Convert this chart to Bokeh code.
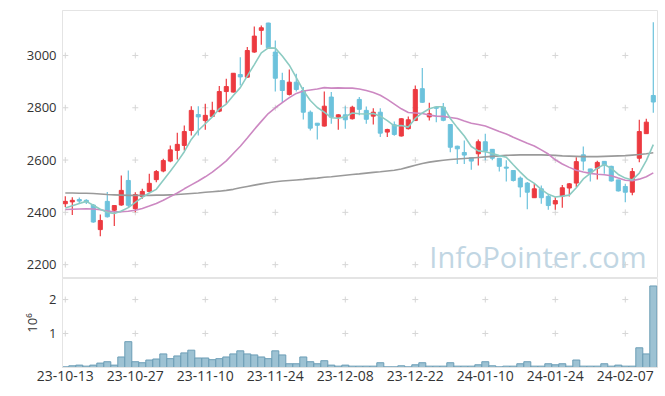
from bokeh.plotting import figure
from bokeh.layouts import column
from bokeh.models import ColumnDataSource, Range1d, FixedTicker, Label
from bokeh.embed import file_html
from bokeh.resources import INLINE

dates = ["23-10-13","23-10-16","23-10-17","23-10-18","23-10-19","23-10-20",
 "23-10-23","23-10-24","23-10-25","23-10-26","23-10-27","23-10-30","23-10-31",
 "23-11-01","23-11-02","23-11-03","23-11-06","23-11-07","23-11-08","23-11-09","23-11-10",
 "23-11-13","23-11-14","23-11-15","23-11-16","23-11-17","23-11-20","23-11-21","23-11-22","23-11-23","23-11-24",
 "23-11-27","23-11-28","23-11-29","23-11-30","23-12-01","23-12-04","23-12-05","23-12-06","23-12-07","23-12-08",
 "23-12-11","23-12-12","23-12-13","23-12-14","23-12-15","23-12-18","23-12-19","23-12-20","23-12-21","23-12-22",
 "23-12-26","23-12-27","23-12-28","24-01-02","24-01-03","24-01-04","24-01-05","24-01-08","24-01-09","24-01-10",
 "24-01-11","24-01-12","24-01-15","24-01-16","24-01-17","24-01-18","24-01-19","24-01-22","24-01-23","24-01-24",
 "24-01-25","24-01-26","24-01-29","24-01-30","24-01-31","24-02-01","24-02-02","24-02-05","24-02-06","24-02-07",
 "24-02-08","24-02-13","24-02-14","24-02-15"]

opens = [2433,2440,2449,2446,2428,2334,2442,2408,2428,2522,
         2414,2461,2480,2525,2558,2596,2637,2656,2713,2774,
         2751,2767,2787,2862,2860,2927,2917,3013,3096,3124,
         3013,2904,2851,2898,2866,2783,2741,2730,2841,2764,
         2773,2758,2832,2790,2768,2783,2707,2735,2692,2720,
         2751,2873,2765,2802,2802,2736,2653,2629,2609,2624,
         2670,2641,2607,2573,2560,2531,2512,2456,2490,2461,
         2432,2462,2493,2512,2620,2566,2569,2595,2576,2524,
         2499,2477,2607,2701,2847]
highs = [2462,2458,2457,2450,2432,2392,2478,2428,2541,2560,
         2477,2490,2548,2562,2605,2656,2704,2732,2806,2806,
         2815,2823,2883,2911,2933,2993,3032,3111,3115,3125,
         3057,2934,2946,2930,2879,2790,2742,2862,2860,2775,
         2806,2808,2841,2805,2798,2798,2720,2747,2760,2767,
         2885,2952,2819,2803,2818,2737,2655,2675,2610,2679,
         2701,2642,2608,2599,2561,2537,2516,2509,2503,2468,
         2458,2505,2512,2611,2652,2567,2597,2596,2578,2525,
         2509,2570,2754,2758,3127]
lows = [2420,2390,2432,2432,2360,2309,2380,2348,2425,2420,
        2400,2452,2477,2515,2553,2592,2602,2637,2694,2694,
        2716,2765,2783,2815,2858,2885,2915,3010,3041,3028,
        2862,2819,2847,2862,2755,2713,2679,2728,2739,2716,
        2720,2755,2771,2739,2736,2688,2688,2693,2690,2717,
        2749,2819,2751,2745,2748,2630,2585,2585,2563,2579,
        2599,2599,2556,2518,2518,2458,2412,2455,2433,2410,
        2410,2418,2461,2497,2560,2518,2526,2548,2518,2480,
        2439,2465,2592,2700,2781]
closes = [2442,2446,2443,2440,2363,2369,2383,2426,2484,2427,
          2468,2480,2511,2556,2598,2639,2660,2709,2790,2765,
          2771,2790,2862,2881,2932,2918,3019,3074,3106,3030,
          2913,2866,2898,2870,2783,2722,2733,2806,2764,2773,
          2754,2802,2794,2756,2783,2703,2717,2698,2758,2754,
          2870,2821,2777,2798,2752,2649,2643,2619,2596,2670,
          2634,2607,2576,2569,2522,2497,2477,2490,2456,2426,
          2445,2494,2509,2594,2596,2553,2591,2580,2520,2482,
          2477,2556,2709,2745,2822]

ma5 = [2417,2425,2434,2442,2427,2412,2400,2396,2405,2418,
       2438,2457,2474,2488,2523,2557,2593,2632,2679,2713,
       2739,2765,2796,2814,2847,2877,2922,2965,3010,3029,
       3028,2998,2963,2915,2866,2828,2801,2783,2762,2760,
       2766,2780,2777,2776,2778,2768,2751,2731,2732,2726,
       2759,2780,2796,2804,2804,2759,2724,2692,2652,2635,
       2632,2625,2617,2611,2582,2554,2528,2511,2488,2469,
       2459,2462,2466,2494,2528,2549,2569,2583,2568,2545,
       2531,2524,2550,2598,2659]
ma20 = [2411,2412,2413,2414,2413,2410,2405,2402,2402,2404,
        2408,2415,2424,2434,2446,2460,2474,2490,2505,2520,
        2536,2554,2575,2597,2625,2653,2684,2717,2748,2778,
        2800,2820,2839,2855,2864,2868,2872,2877,2875,2876,
        2875,2875,2872,2866,2858,2848,2832,2814,2796,2782,
        2780,2778,2772,2768,2767,2763,2759,2749,2741,2736,
        2730,2720,2709,2700,2687,2676,2664,2654,2639,2623,
        2601,2585,2572,2561,2554,2549,2546,2544,2540,2531,
        2523,2521,2527,2536,2551]
ma60 = [2474,2474,2473,2473,2472,2470,2468,2467,2466,2465,
        2465,2465,2465,2466,2466,2467,2468,2470,2472,2474,
        2477,2479,2481,2484,2488,2494,2499,2504,2509,2513,
        2517,2520,2522,2524,2526,2529,2531,2534,2536,2539,
        2542,2545,2547,2550,2553,2555,2558,2561,2566,2573,
        2580,2587,2592,2596,2599,2602,2604,2606,2608,2610,
        2612,2614,2616,2618,2619,2620,2620,2620,2620,2619,
        2618,2616,2615,2614,2613,2613,2613,2614,2615,2616,
        2617,2619,2621,2624,2628]

volume_m = [0.02,0.05,0.07,0.04,0.07,0.13,0.17,0.07,0.31,0.76,
            0.17,0.14,0.22,0.25,0.40,0.26,0.34,0.43,0.51,0.28,
            0.28,0.23,0.26,0.31,0.40,0.49,0.40,0.37,0.31,0.26,
            0.49,0.37,0.11,0.11,0.31,0.17,0.11,0.20,0.07,0.04,
            0.07,0.04,0.04,0.04,0.04,0.14,0.02,0.02,0.05,0.02,
            0.08,0.14,0.04,0.04,0.04,0.14,0.04,0.04,0.04,0.08,
            0.17,0.05,0.02,0.04,0.04,0.11,0.17,0.04,0.04,0.11,
            0.08,0.11,0.04,0.22,0.04,0.04,0.04,0.11,0.04,0.07,
            0.04,0.04,0.58,0.40,2.40]

price_ticks = [2200, 2400, 2600, 2800, 3000]
volume_ticks = [1, 2]
date_tick_step = 10

UP = "#ec3a40"
DOWN = "#6cc2dc"
FONT = "Open Sans"
GRIDC = "#d6d6d6"
BORDER = "#e4e4e4"

x = list(range(len(dates)))
x_ticks = x[::date_tick_step]
colors = [UP if c >= o else DOWN for o, c in zip(opens, closes)]
src = ColumnDataSource(dict(x=x, open=opens, close=closes, high=highs, low=lows,
                            color=colors, ma5=ma5, ma20=ma20, ma60=ma60, vol=volume_m))

xr = Range1d(-0.4, 84.6)

p = figure(width=660, height=278, x_range=xr, y_range=Range1d(2147, 3172),
           output_backend="svg", toolbar_location=None,
           min_border_left=62, min_border_right=3, min_border_top=10, min_border_bottom=0)
p.xaxis.visible = False
p.grid.visible = False
p.outline_line_color = BORDER
ya = p.yaxis[0]
ya.ticker = FixedTicker(ticks=price_ticks)
ya.axis_line_color = BORDER
ya.major_tick_line_color = None
ya.minor_tick_line_color = None
ya.major_tick_out = 0
ya.major_tick_in = 0
ya.minor_tick_out = 0
ya.major_label_standoff = 6
ya.major_label_text_font = FONT
ya.major_label_text_font_size = "13px"
ya.major_label_text_color = "#333333"

gx = [xi for xi in x_ticks for _ in price_ticks]
gy = [yi for _ in x_ticks for yi in price_ticks]
p.scatter(gx, gy, marker="cross", size=6, line_color=GRIDC, line_width=1)

wm = Label(x=52.0, y=2233, text="InfoPointer.com", text_font=FONT, text_font_size="29px",
           text_color="#c1d6e3", text_align="left", text_baseline="middle")
p.add_layout(wm)

p.segment(x0="x", y0="low", x1="x", y1="high", line_color="color", line_width=1.2, source=src)
p.vbar(x="x", top="open", bottom="close", width=0.58, fill_color="color", line_color="color", source=src)

p.line("x", "ma60", source=src, line_color="#9a9a9a", line_width=1.6)
p.line("x", "ma20", source=src, line_color="#cc88c2", line_width=1.6)
p.line("x", "ma5", source=src, line_color="#8ccbc2", line_width=1.6)

v = figure(width=660, height=114, x_range=xr, y_range=Range1d(0, 2.62),
           output_backend="svg", toolbar_location=None,
           min_border_left=62, min_border_right=3, min_border_top=0, min_border_bottom=25)
v.grid.visible = False
v.outline_line_color = BORDER
vgx = [xi for xi in x_ticks for _ in volume_ticks]
vgy = [yi for _ in x_ticks for yi in volume_ticks]
v.scatter(vgx, vgy, marker="cross", size=6, line_color=GRIDC, line_width=1)
v.vbar(x="x", top="vol", width=1.0, fill_color="#9dc2d3", line_color="#6b9db6", line_width=1, source=src)

vy = v.yaxis[0]
vy.ticker = FixedTicker(ticks=volume_ticks)
vy.axis_line_color = BORDER
vy.major_tick_line_color = None
vy.minor_tick_line_color = None
vy.major_tick_out = 0
vy.major_tick_in = 0
vy.minor_tick_out = 0
vy.major_label_standoff = 6
vy.major_label_text_font = FONT
vy.major_label_text_font_size = "13px"
vy.major_label_text_color = "#333333"
vy.axis_label = "10\u2076"
vy.axis_label_text_font = FONT
vy.axis_label_text_font_size = "13px"
vy.axis_label_text_font_style = "normal"
vy.axis_label_text_color = "#333333"
vy.axis_label_standoff = 5

vx = v.xaxis[0]
vx.ticker = FixedTicker(ticks=x_ticks)
vx.major_label_overrides = {i: dates[i] for i in x_ticks}
vx.axis_line_color = BORDER
vx.major_tick_line_color = None
vx.minor_tick_line_color = None
vx.major_tick_out = 0
vx.major_tick_in = 0
vx.minor_tick_out = 0
vx.major_label_standoff = 3
vx.major_label_text_font = FONT
vx.major_label_text_font_size = "14px"
vx.major_label_text_color = "#333333"

layout = column(p, v)
open("out.html", "w").write(file_html(layout, INLINE))
